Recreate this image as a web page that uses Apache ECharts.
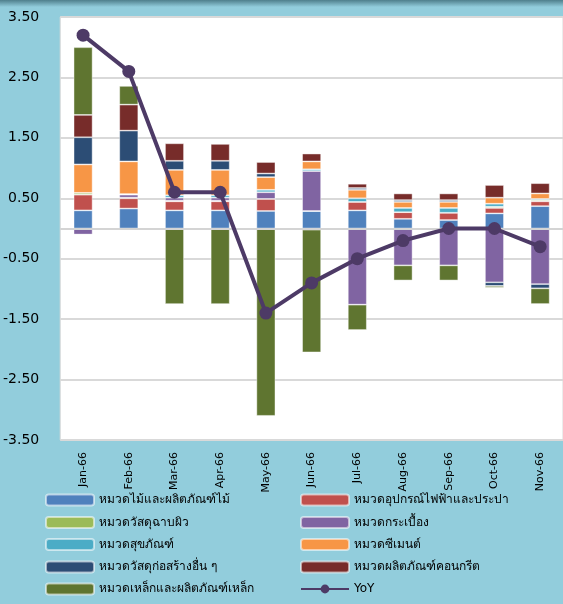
<!DOCTYPE html>
<html><head><meta charset="utf-8">
<script src="https://cdn.jsdelivr.net/npm/echarts@6/dist/echarts.min.js"></script>
<style>html,body{margin:0;padding:0;background:#92CDDC;}#c{width:563px;height:604px;}</style>
</head><body><div id="c"></div>
<script>
const categories = ['Jan-66','Feb-66','Mar-66','Apr-66','May-66','Jun-66','Jul-66','Aug-66','Sep-66','Oct-66','Nov-66'];
const seriesNames = ['หมวดไม้และผลิตภัณฑ์ไม้','หมวดอุปกรณ์ไฟฟ้าและประปา','หมวดวัสดุฉาบผิว','หมวดกระเบื้อง','หมวดสุขภัณฑ์','หมวดซีเมนต์','หมวดวัสดุก่อสร้างอื่น ๆ','หมวดผลิตภัณฑ์คอนกรีต','หมวดเหล็กและผลิตภัณฑ์เหล็ก','YoY'];
const wood       = [0.30, 0.33, 0.30, 0.30, 0.29, 0.29, 0.30, 0.16, 0.14, 0.25, 0.37];
const electrical = [0.26, 0.17, 0.15, 0.15, 0.20, 0.00, 0.14, 0.11, 0.12, 0.09, 0.08];
const surface    = [0.03, 0.01, 0.01, 0.01, 0.00, 0.00, 0.00, 0.00, 0.00, 0.02, 0.02];
const tile       = [-0.10, 0.05, 0.05, 0.05, 0.11, 0.66, -1.26, -0.61, -0.61, -0.89, -0.92];
const sanitary   = [0.00, 0.01, 0.04, 0.04, 0.04, 0.03, 0.06, 0.07, 0.08, 0.05, 0.02];
const cement     = [0.47, 0.54, 0.42, 0.42, 0.21, 0.13, 0.14, 0.10, 0.10, 0.10, 0.09];
const other      = [0.45, 0.51, 0.15, 0.15, 0.06, -0.02, 0.03, 0.03, 0.03, -0.06, -0.07];
const concrete   = [0.37, 0.43, 0.29, 0.28, 0.19, 0.13, 0.07, 0.11, 0.11, 0.21, 0.17];
const steel      = [1.12, 0.31, -1.25, -1.25, -3.10, -2.03, -0.42, -0.25, -0.25, -0.03, -0.26];
const yoy        = [3.2, 2.6, 0.6, 0.6, -1.4, -0.9, -0.5, -0.2, 0.0, 0.0, -0.3];

const barData = [wood, electrical, surface, tile, sanitary, cement, other, concrete, steel];
const colors = ['#4F81BD','#C0504D','#9BBB59','#8064A2','#4BACC6','#F79646','#2C4D75','#772C2A','#5F7530'];
const lineColor = '#4D3A66';
const FONT = "'DejaVu Sans', sans-serif";

const series = barData.map((d, i) => ({
  name: seriesNames[i], type: 'bar', stack: 'total', data: d, barWidth: 19,
  itemStyle: { color: colors[i], borderColor: 'rgba(255,255,255,0.55)', borderWidth: 0.8 },
  emphasis: { disabled: true }
}));
series.push({
  name: seriesNames[9], type: 'line', data: yoy, z: 10,
  symbol: 'circle', symbolSize: 13,
  lineStyle: { color: lineColor, width: 4 },
  itemStyle: { color: lineColor },
  markLine: { silent: true, symbol: 'none', label: { show: false },
    lineStyle: { color: '#D4D4D4', width: 2, type: 'solid' }, data: [{ yAxis: 0 }] }
});

// legend: two columns, row-major order of series
const rowCenters = [500, 522.5, 544.5, 567, 589];
const legends = seriesNames.map((name, i) => ({
  left: i % 2 === 0 ? 45 : 300,
  top: rowCenters[Math.floor(i / 2)] - 8,
  orient: 'horizontal', itemWidth: 48, itemHeight: 11, padding: 0,
  data: [name],
  textStyle: { fontSize: 12, color: '#000', fontFamily: FONT, lineHeight: 16 }
}));

const chart = echarts.init(document.getElementById('c'), null, { renderer: 'canvas' });
chart.setOption({
  animation: false,
  backgroundColor: '#92CDDC',
  textStyle: { fontFamily: FONT },
  graphic: [{ type: 'rect', shape: { x: 0, y: 0, width: 563, height: 7 }, silent: true,
    style: { fill: new echarts.graphic.LinearGradient(0, 0, 0, 1, [{ offset: 0, color: '#4f7f8c' }, { offset: 1, color: '#92CDDC' }]) } }],
  grid: { left: 58, top: 17, width: 512, height: 423, show: true, backgroundColor: '#ffffff', borderColor: '#D9D9D9', borderWidth: 1 },
  xAxis: {
    type: 'category', data: categories,
    axisLine: { show: false, onZero: false }, axisTick: { show: false },
    axisLabel: { rotate: 90, margin: 12, fontSize: 11, color: '#000', fontFamily: FONT, padding: [0, 0, 12, 0] }
  },
  yAxis: {
    type: 'value', min: -3.5, max: 3.5, interval: 1,
    axisLine: { show: false }, axisTick: { show: false },
    axisLabel: { formatter: v => v.toFixed(2), fontSize: 14, color: '#000', margin: 21, fontFamily: FONT },
    splitLine: { lineStyle: { color: '#D9D9D9', width: 2 } }
  },
  legend: legends,
  series: series
});
</script></body></html>
